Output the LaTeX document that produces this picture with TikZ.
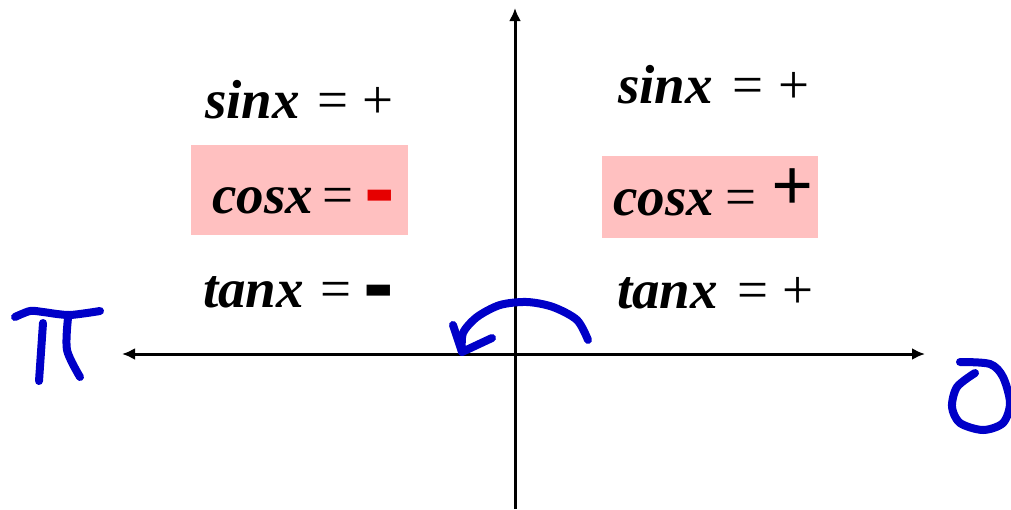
\documentclass[tikz,border=0pt]{standalone}
\usepackage{fontspec}
\setmainfont{Liberation Serif}
\newfontfamily\boldsans{Liberation Sans}
\usetikzlibrary{arrows.meta}
\definecolor{pinkbox}{RGB}{255,192,192}
\definecolor{ink}{RGB}{0,0,200}
\definecolor{minusred}{RGB}{230,0,0}
\tikzset{
  word/.style={anchor=base west, inner sep=0pt, font=\fontsize{55}{60}\selectfont\bfseries\itshape},
  sym/.style={anchor=base west, inner sep=0pt, font=\fontsize{55}{60}\selectfont},
  bar/.style={anchor=base west, inner sep=0pt, font=\fontsize{92}{92}\selectfont\boldsans\bfseries},
  bigplus/.style={anchor=base west, inner sep=0pt, font=\fontsize{74}{74}\selectfont\bfseries},
  pinkfill/.style={fill=pinkbox, draw=none},
  hand/.style={draw=ink, line width=8pt, line cap=round, line join=round},
  axisline/.style={line width=3pt}
}
\begin{document}
\begin{tikzpicture}[x=1pt,y=-1pt]
\useasboundingbox (0,0) rectangle (1011,509);
% pink boxes
\fill[pinkfill] (191,145) rectangle (408,235);
\fill[pinkfill] (602,156) rectangle (818,238);
% axes
\coordinate (O) at (515,354);
\coordinate (L) at (122,354);
\coordinate (R) at (925,354);
\coordinate (T) at (515,8);
\coordinate (B) at (515,509);
\draw[axisline,{Latex[length=13pt,width=12pt]}-{Latex[length=13pt,width=12pt]}] (L) -- (R);
\draw[axisline,-{Latex[length=13pt,width=12pt]}] (B) -- (T);
% left quadrant
\node[word] (ls) at (205,118) {sinx};
\node[sym] (lse) at (317,118) {=};
\node[sym] (lsp) at (362,118) {+};
\node[word] (lc) at (212,213) {cosx};
\node[sym] (lce) at (322,213) {=};
\node[bar, text=minusred] (lcm) at (364,219) {-};
\node[word] (lt) at (203,307) {tanx};
\node[sym] (lte) at (320,307) {=};
\node[bar] (ltm) at (363,314) {-};
% right quadrant
\node[word] (rs) at (618,103) {sinx};
\node[sym] (rse) at (732,103) {=};
\node[sym] (rsp) at (778,103) {+};
\node[word] (rc) at (613,215) {cosx};
\node[sym] (rce) at (725,215) {=};
\node[bigplus] (rcp) at (771,210) {+};
\node[word] (rt) at (617,308) {tanx};
\node[sym] (rte) at (737,308) {=};
\node[sym] (rtp) at (782,308) {+};
% hand-drawn pi
\draw[hand] plot[smooth] coordinates {(15,317) (30,311) (43,312) (57,314) (70,315) (87,313) (100,311)};
\draw[hand] plot[smooth] coordinates {(43,323) (41,352) (39,381)};
\draw[hand] plot[smooth] coordinates {(68,318) (67,350) (80,377)};
% hand-drawn zero
\draw[hand] plot[smooth] coordinates {(975,373) (957,387) (952,407) (960,423) (983,430) (1003,423) (1010,403) (1003,377) (990,364) (960,362)};
% curved arrow
\draw[hand] plot[smooth] coordinates {(588,340) (577,320) (553,307) (527,302) (500,305) (477,317) (463,333) (462,352)};
\draw[hand] (453,325) -- (462,352) -- (492,338);
\end{tikzpicture}
\end{document}
